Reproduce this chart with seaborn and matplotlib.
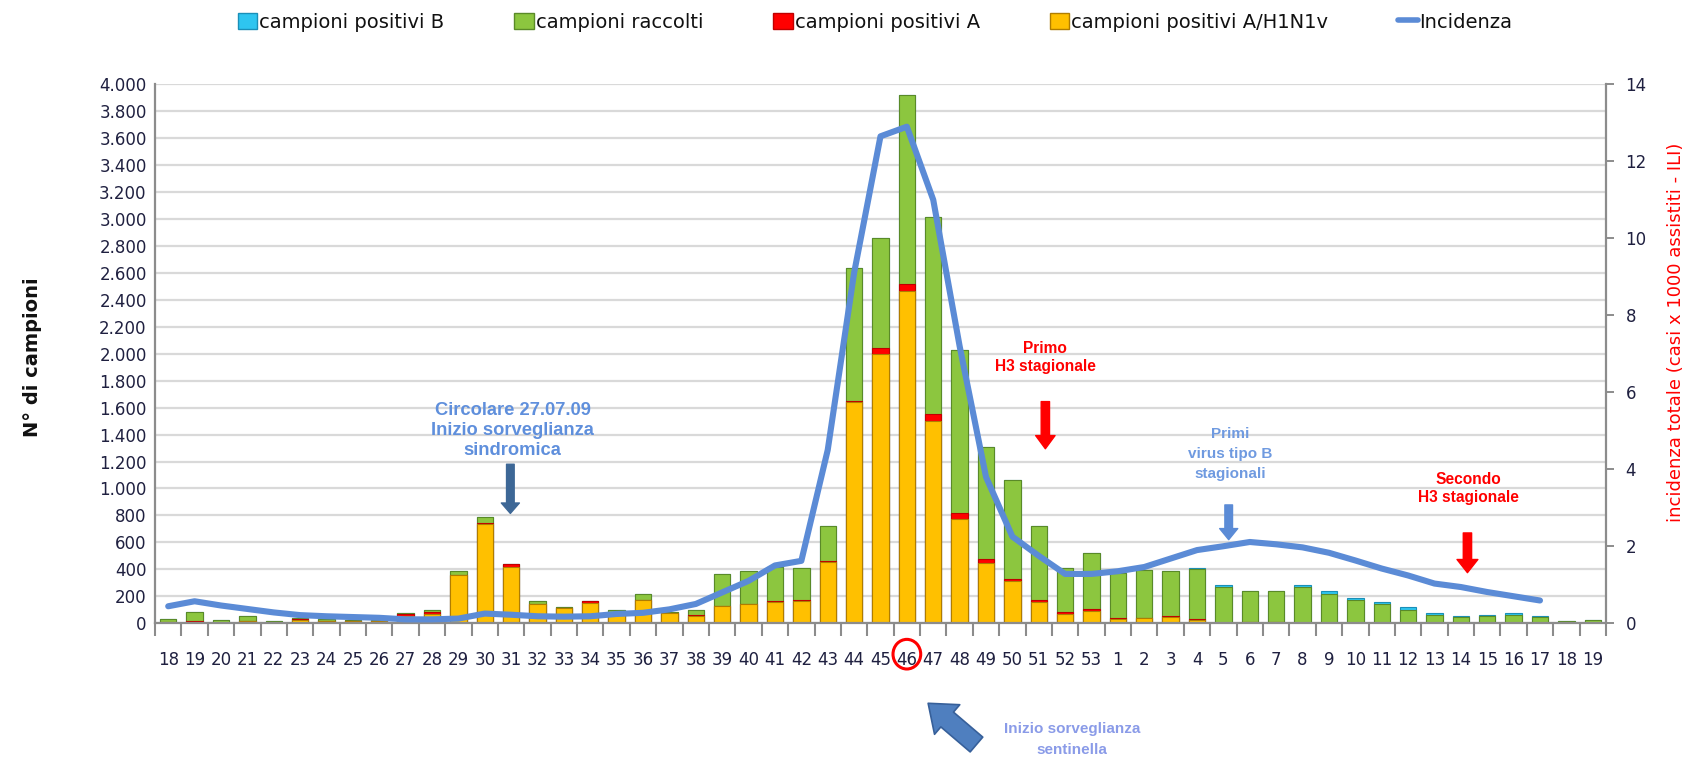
import numpy as np
import pandas as pd
import matplotlib
matplotlib.use("Agg")
import matplotlib.pyplot as plt
import seaborn as sns
from matplotlib.patches import Patch, Ellipse, FancyArrowPatch
from matplotlib.lines import Line2D
from matplotlib.ticker import FuncFormatter, FixedLocator
import matplotlib.transforms as mtransforms

# ---------------- data ----------------
weeks = [str(w) for w in list(range(18, 54)) + list(range(1, 20))]

pos_h1n1 = [5, 10, 5, 15, 5, 25, 20, 20, 20, 50, 65, 355, 735, 420, 145, 110, 150, 60, 175, 75,
            55, 125, 140, 160, 165, 455, 1640, 2000, 2465, 1500, 770, 450, 315, 155, 70, 90,
            30, 35, 45, 25, 5, 5, 5, 0, 0, 0, 0, 0, 0, 0, 0, 0, 0, 0, 0]
pos_a = [5, 5, 0, 0, 0, 8, 0, 0, 0, 15, 15, 5, 10, 20, 0, 0, 15, 0, 0, 0,
         8, 5, 5, 5, 5, 5, 10, 40, 50, 55, 50, 25, 15, 20, 12, 15,
         8, 5, 5, 5, 0, 5, 5, 0, 0, 0, 0, 0, 0, 0, 0, 0, 0, 0, 0]
raccolti = [20, 65, 20, 35, 10, 7, 10, 5, 5, 10, 15, 25, 40, 0, 20, 10, 0, 35, 40, 10,
            37, 235, 245, 250, 240, 265, 990, 820, 1405, 1460, 1210, 830, 730, 550, 326, 415,
            332, 355, 335, 370, 265, 230, 230, 270, 220, 170, 145, 95, 58, 45, 50, 58, 45, 15, 25]
pos_b = [0] * 36 + [0, 0, 0, 10, 12, 0, 0, 15, 20, 20, 12, 25, 20, 12, 12, 15, 12, 0, 0]
incidenza = [0.44, 0.57, 0.46, 0.37, 0.28, 0.21, 0.18, 0.16, 0.14, 0.10, 0.10, 0.12, 0.25, 0.22,
             0.18, 0.17, 0.18, 0.24, 0.27, 0.36, 0.50, 0.80, 1.10, 1.50, 1.62, 4.50, 9.10,
             12.65, 12.90, 11.00, 7.20, 3.80, 2.25, 1.75, 1.28, 1.28,
             1.35, 1.46, 1.68, 1.90, 2.00, 2.11, 2.05, 1.97, 1.83, 1.63, 1.42, 1.24, 1.03,
             0.94, 0.81, 0.70, 0.59]
left_ticks = list(range(0, 4001, 200))
right_ticks = list(range(0, 15, 2))

# ---------------- style ----------------
sns.set_theme(style="white")
plt.rcParams['font.family'] = ['DejaVu Sans']
ANN = ['Liberation Sans', 'DejaVu Sans']
TICKC = '#1f2040'

fig = plt.figure(figsize=(16.96, 7.6), dpi=100)
ax = fig.add_axes([0.0914, 0.180, 0.8555, 0.709])

n = len(weeks)
keys = [f"k{i:02d}" for i in range(n)]
c1 = np.array(pos_h1n1, float)
c2 = c1 + np.array(pos_a)
c3 = c2 + np.array(raccolti)
c4 = c3 + np.array(pos_b)

layers = [(c4, '#2ec5f0', '#1a8fb8'),
          (c3, '#8cc63f', '#5a8a28'),
          (c2, '#ff0000', '#c00000'),
          (c1, '#ffc000', '#b07d00')]
for vals, col, ec in layers:
    df = pd.DataFrame({'k': keys, 'v': vals})
    sns.barplot(data=df, x='k', y='v', order=keys, color=col, saturation=1,
                width=0.62, edgecolor=ec, linewidth=0.8, ax=ax, zorder=2)

ax.set_xlim(-0.5, n - 0.5)
ax.set_ylim(0, 4000)
ax.set_yticks(left_ticks)
ax.yaxis.set_major_formatter(FuncFormatter(lambda v, p: f"{int(v):,}".replace(",", ".")))
ax.yaxis.grid(True, color='#d9d9d9', lw=1.6)
ax.xaxis.grid(False)
ax.set_axisbelow(True)
ax.tick_params(axis='y', length=0, pad=6, labelsize=12, labelcolor=TICKC)
ax.set_xlabel("")
ax.set_ylabel("")

for s in ['top', 'right']:
    ax.spines[s].set_visible(False)
for s in ['left', 'bottom']:
    ax.spines[s].set_color('#8c8c8c')
    ax.spines[s].set_linewidth(1.6)

# twin axis with incidence line
ax2 = ax.twinx()
sns.lineplot(x=np.arange(len(incidenza)), y=incidenza, ax=ax2, color='#5b8bd6', lw=4.4,
             solid_capstyle='round', zorder=5)
ax2.set_ylim(0, 14)
ax2.set_yticks(right_ticks)
ax2.set_ylabel("")
ax2.set_xlabel("")
ax2.tick_params(axis='y', direction='out', length=6, width=1.4, color='#8c8c8c', pad=8,
                labelsize=12, labelcolor=TICKC)
for s in ['top', 'left', 'bottom']:
    ax2.spines[s].set_visible(False)
ax2.spines['right'].set_color('#8c8c8c')
ax2.spines['right'].set_linewidth(1.6)

# x ticks: marks at boundaries, labels at centres
ax.set_xlim(-0.5, n - 0.5)
ax.xaxis.set_major_locator(FixedLocator(np.arange(n + 1) - 0.5))
ax.xaxis.set_major_formatter(FuncFormatter(lambda v, p: ""))
ax.xaxis.set_minor_locator(FixedLocator(np.arange(n)))
ax.xaxis.set_minor_formatter(FuncFormatter(lambda v, p: weeks[int(round(v))] if 0 <= int(round(v)) < n else ""))
ax.tick_params(axis='x', which='major', direction='out', length=9, width=1.5, color='#8c8c8c', bottom=True)
ax.tick_params(axis='x', which='minor', length=0, pad=20, labelsize=12, labelcolor=TICKC, bottom=True)

# axis labels
fig.text(0.019, 0.53, "N° di campioni", rotation=90, ha='center', va='center',
         fontsize=14, fontweight='bold', color='#111111')
fig.text(0.988, 0.563, "incidenza totale (casi x 1000 assistiti - ILI)", rotation=90,
         ha='center', va='center', fontsize=13, color='#ff0000')

# legend
handles = [Patch(facecolor='#2ec5f0', edgecolor='#1a8fb8'),
           Patch(facecolor='#8cc63f', edgecolor='#5a8a28'),
           Patch(facecolor='#ff0000', edgecolor='#c00000'),
           Patch(facecolor='#ffc000', edgecolor='#b07d00'),
           Line2D([], [], color='#5b8bd6', lw=4)]
labels = ["campioni positivi B", "campioni raccolti", "campioni positivi A",
          "campioni positivi A/H1N1v", "Incidenza"]
fig.legend(handles, labels, loc='center', bbox_to_anchor=(0.516, 0.971), ncol=5,
           frameon=False, fontsize=14, handlelength=1.0, handleheight=0.9,
           handletextpad=0.1, columnspacing=3.6, labelcolor='#111111')

# annotations (left axis data coordinates)
def down_arrow(x, y0, y1, color, ms=10, tw=0.6, hw=1.4, hl=0.8):
    ax2.annotate("", xy=(x, y1), xytext=(x, y0), xycoords=ax.transData, textcoords=ax.transData,
                 arrowprops=dict(arrowstyle=f"simple,head_width={hw},head_length={hl},tail_width={tw}",
                                 color=color, mutation_scale=ms, shrinkA=0, shrinkB=0), zorder=6)

def note(x, y, s, color, size, lsp=1.2):
    ax2.text(x, y, s, transform=ax.transData, ha='center', va='center', color=color,
             fontsize=size, fontweight='bold', family=ANN, linespacing=lsp, zorder=6)

note(13.06, 1430, "Circolare 27.07.09\nInizio sorveglianza\nsindromica", '#5f8fdc', 13.2, 1.2)
down_arrow(12.97, 1180, 815, '#3d6796', ms=10, tw=0.55, hw=1.3, hl=0.75)

note(33.25, 1975, "Primo\nH3 stagionale", '#ff0000', 11.2, 1.25)
down_arrow(33.25, 1645, 1295, '#ff0000', ms=10, tw=0.6, hw=1.4, hl=0.95)

note(40.25, 1255, "Primi\nvirus tipo B\nstagionali", '#6f9ae0', 11, 1.55)
down_arrow(40.2, 878, 620, '#5b8bd6', ms=10, tw=0.55, hw=1.3, hl=0.8)

note(49.3, 1000, "Secondo\nH3 stagionale", '#ff0000', 11.2, 1.2)
down_arrow(49.25, 670, 375, '#ff0000', ms=10, tw=0.6, hw=1.5, hl=0.95)

# red circle around week 46 label
idx46 = weeks.index("46")
trans = mtransforms.blended_transform_factory(ax.transData, ax.transAxes)
ax.add_patch(Ellipse((idx46, -0.0575), width=1.05, height=0.055, transform=trans,
                     fill=False, edgecolor='#ff0000', lw=2.2, clip_on=False))

# big arrow below the axis + text
arr = FancyArrowPatch(posA=(0.577, 0.018), posB=(0.546, 0.077), transform=fig.transFigure,
                      arrowstyle="simple,head_width=1.4,head_length=0.9,tail_width=0.7",
                      mutation_scale=20, facecolor='#4f7fbf', edgecolor='#37609a', lw=1.2)
fig.add_artist(arr)
fig.text(0.632, 0.027, "Inizio sorveglianza\nsentinella", ha='center', va='center',
         fontsize=11, fontweight='bold', color='#8a9be8', family=ANN, linespacing=1.6)

fig.savefig("out.png", dpi=100)
